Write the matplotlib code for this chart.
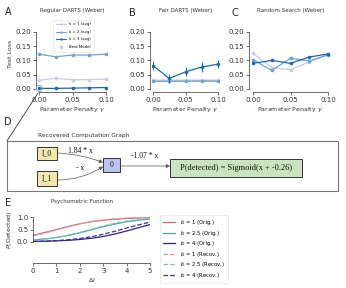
import matplotlib

matplotlib.use("Agg")
import matplotlib.pyplot as plt
from matplotlib.patches import FancyArrowPatch, Rectangle

W, H = 346, 288
DPI = 100

# --- panels A-C: test loss vs parameter penalty ---
penalty = [0.0, 0.025, 0.05, 0.075, 0.1]
penalty_ticks = [0.0, 0.05, 0.1]
loss_ticks = [0.0, 0.05, 0.10, 0.15, 0.20]

regular_k1 = [0.030, 0.038, 0.032, 0.033, 0.034]
regular_k2 = [0.122, 0.113, 0.119, 0.119, 0.122]
regular_k3 = [0.002, 0.002, 0.003, 0.004, 0.005]

fair_k1 = [0.031, 0.031, 0.031, 0.031, 0.031]
fair_k1_err = [0.005, 0.005, 0.005, 0.005, 0.005]
fair_k2 = [0.027, 0.027, 0.027, 0.028, 0.027]
fair_k3 = [0.082, 0.037, 0.060, 0.077, 0.087]
fair_k3_err = [0.017, 0.015, 0.016, 0.016, 0.014]

random_k1 = [0.125, 0.075, 0.067, 0.095, 0.120]
random_k2 = [0.103, 0.065, 0.108, 0.098, 0.120]
random_k3 = [0.090, 0.100, 0.090, 0.112, 0.123]

best_penalty = 0.0
best_loss = 0.003

# --- panel E: psychometric function ---
delta_i = [0.0, 0.5, 1.0, 1.5, 2.0, 2.5, 3.0, 3.5, 4.0, 4.5, 5.0]
orig_i1 = [0.27, 0.38, 0.50, 0.62, 0.73, 0.81, 0.87, 0.91, 0.94, 0.96, 0.97]
orig_i25 = [0.08, 0.12, 0.18, 0.26, 0.37, 0.49, 0.61, 0.72, 0.81, 0.87, 0.92]
orig_i4 = [0.02, 0.03, 0.045, 0.065, 0.10, 0.15, 0.22, 0.32, 0.44, 0.57, 0.70]
recov_i1 = [0.24, 0.35, 0.48, 0.61, 0.73, 0.82, 0.89, 0.93, 0.96, 0.975, 0.985]
recov_i25 = [0.075, 0.12, 0.18, 0.27, 0.38, 0.51, 0.64, 0.75, 0.84, 0.90, 0.945]
recov_i4 = [0.021, 0.035, 0.055, 0.09, 0.14, 0.21, 0.31, 0.43, 0.56, 0.68, 0.80]

K_COLORS = ["#c9c9e8", "#6aa3d5", "#1b6aac"]


def rect(x0, y0, x1, y1):
    return [x0 / W, 1 - y1 / H, (x1 - x0) / W, (y1 - y0) / H]


def style_axes(ax, xbounds, ybounds, left_off=1.5, bottom_off=1.0, size=5):
    for side in ("top", "right"):
        ax.spines[side].set_visible(False)
    ax.spines["left"].set_position(("outward", left_off))
    ax.spines["bottom"].set_position(("outward", bottom_off))
    ax.spines["left"].set_bounds(*ybounds)
    ax.spines["bottom"].set_bounds(*xbounds)
    for side in ("left", "bottom"):
        ax.spines[side].set_linewidth(0.5)
        ax.spines[side].set_color("#333333")
    ax.tick_params(labelsize=size, length=2, width=0.5, pad=1.5, colors="#333333")


def loss_panel(ax, title, series, show_ylabel):
    for values, color, err in series:
        if err is None:
            ax.plot(penalty, values, color=color, marker="o", markersize=1.6,
                    linewidth=0.9)
        else:
            ax.errorbar(penalty, values, yerr=err, color=color, marker="o",
                        markersize=1.6, linewidth=0.9, elinewidth=0.7)
    ax.set_xlim(-0.002, 0.102)
    ax.set_ylim(-0.005, 0.25)
    ax.set_xticks(penalty_ticks)
    ax.set_xticklabels(["0.00", "0.05", "0.10"])
    ax.set_yticks(loss_ticks)
    ax.set_yticklabels([f"{v:.2f}" for v in loss_ticks])
    style_axes(ax, (0, 0.1), (0, 0.2))
    ax.set_title(title, fontsize=4, pad=4, color="#333333")
    ax.set_xlabel(r"Parameter Penalty $\gamma$", fontsize=4.5, labelpad=1.5,
                  color="#333333")
    if show_ylabel:
        ax.set_ylabel("Test Loss", fontsize=4.5, labelpad=1.5, color="#333333")


fig = plt.figure(figsize=(W / DPI, H / DPI), dpi=DPI)

ax_a = fig.add_axes(rect(37.7, 17.7, 107.3, 90.4))
ax_b = fig.add_axes(rect(151.7, 17.7, 219.3, 90.4))
ax_c = fig.add_axes(rect(251.5, 17.7, 329.5, 90.4))

loss_panel(ax_a, "Regular DARTS (Weber)",
           [(regular_k1, K_COLORS[0], None), (regular_k2, K_COLORS[1], None),
            (regular_k3, K_COLORS[2], None)], True)
ax_a.plot([best_penalty], [best_loss], marker="o", markersize=4.5,
          markerfacecolor="none", markeredgecolor="#999999",
          markeredgewidth=0.6, linestyle="none", clip_on=False, zorder=5)
handles = [
    plt.Line2D([], [], color=K_COLORS[0], marker="+", markersize=2, linewidth=0.7),
    plt.Line2D([], [], color=K_COLORS[1], marker="+", markersize=2, linewidth=0.7),
    plt.Line2D([], [], color=K_COLORS[2], marker="+", markersize=2, linewidth=0.7),
    plt.Line2D([], [], color=K_COLORS[0], marker="*", markersize=2, linestyle="none"),
]
ax_a.legend(handles, ["k = 1 (avg)", "k = 2 (avg)", "k = 3 (avg)", "Best Model"],
            fontsize=2.8, loc="upper right", bbox_to_anchor=(0.83, 1.0),
            frameon=True, framealpha=1, edgecolor="#dddddd", fancybox=True,
            borderpad=0.7, labelspacing=0.9, handlelength=2.5, handletextpad=0.8)
ax_a.get_legend().get_frame().set_linewidth(0.4)

ax_b.fill_between(penalty, [v - e for v, e in zip(fair_k1, fair_k1_err)],
                  [v + e for v, e in zip(fair_k1, fair_k1_err)],
                  color=K_COLORS[0], alpha=0.5, linewidth=0)
loss_panel(ax_b, "Fair DARTS (Weber)",
           [(fair_k1, K_COLORS[0], None), (fair_k2, K_COLORS[1], None),
            (fair_k3, K_COLORS[2], fair_k3_err)], False)

loss_panel(ax_c, "Random Search (Weber)",
           [(random_k1, K_COLORS[0], None), (random_k2, K_COLORS[1], None),
            (random_k3, K_COLORS[2], None)], False)

# --- panel E ---
ax_e = fig.add_axes(rect(33, 215.75, 150, 243.25))
e_series = [
    (orig_i1, "#cc6677", "-", r"$I_0$ = 1 (Orig.)"),
    (orig_i25, "#44aa99", "-", r"$I_0$ = 2.5 (Orig.)"),
    (orig_i4, "#332288", "-", r"$I_0$ = 4 (Orig.)"),
    (recov_i1, "#dd99a8", "--", r"$I_0$ = 1 (Recov.)"),
    (recov_i25, "#77c4b4", "--", r"$I_0$ = 2.5 (Recov.)"),
    (recov_i4, "#3c3096", "--", r"$I_0$ = 4 (Recov.)"),
]
for values, color, style, label in e_series:
    ax_e.plot(delta_i, values, color=color, linestyle=style, linewidth=0.9,
              label=label)
ax_e.set_xlim(0, 5)
ax_e.set_ylim(-0.05, 1.05)
ax_e.set_xticks([0, 1, 2, 3, 4, 5])
ax_e.set_yticks([0.0, 0.5, 1.0])
style_axes(ax_e, (0, 5), (0, 1), left_off=0, bottom_off=14)
ax_e.set_xlabel(r"$\Delta I$", fontsize=4.5, labelpad=1.5, color="#333333")
ax_e.set_ylabel(r"$P$(Detected)", fontsize=4.5, labelpad=2, color="#333333")
leg = ax_e.legend(fontsize=3.8, loc="upper left", bbox_to_anchor=(1.06, 1.13),
                  frameon=True, edgecolor="#dddddd", framealpha=1,
                  labelspacing=0.3, handlelength=2.4, handletextpad=0.8,
                  borderpad=0.6)
leg.get_frame().set_linewidth(0.4)

# --- overlay for panel D, letters and connector ---
ov = fig.add_axes([0, 0, 1, 1], zorder=10)
ov.set_xlim(0, W)
ov.set_ylim(H, 0)
ov.axis("off")

for letter, x, y in [("A", 8, 12), ("B", 132, 13), ("C", 235, 13),
                     ("D", 8, 122), ("E", 8, 203)]:
    ov.text(x, y, letter, fontsize=7, ha="center", va="center", color="#222222")

ov.text(82, 202, "Psychometric Function", fontsize=4, ha="center", va="center",
        color="#333333")
ov.text(38, 135, "Recovered Computation Graph", fontsize=4.2, ha="left",
        va="center", color="#333333")

ov.add_patch(Rectangle((7, 141), 331, 50, facecolor="none", edgecolor="#777777",
                       linewidth=0.8))
ov.plot([38, 7], [93, 141], color="#333333", linewidth=0.6)

serif = "Liberation Serif"
nodes = [
    ("I_0", 37, 147, 20, 12.5, "#efe9b0"),
    ("I_1", 37, 171, 20, 15, "#efe9b0"),
    ("0", 103, 158, 17, 14, "#b8c5f0"),
    ("P(detected) = Sigmoid(x + -0.26)", 170, 159, 132, 18, "#c8e5bf"),
]
for text, x, y, w, h, fill in nodes:
    ov.add_patch(Rectangle((x, y), w, h, facecolor=fill, edgecolor="#333333",
                           linewidth=0.7))
    size = 6 if len(text) > 5 else 5.5
    ov.text(x + w / 2, y + h / 2, text, fontsize=size, family=serif,
            ha="center", va="center", color="#111111")

edges = [((57, 153), (103, 162.5), "arc3,rad=-0.08"),
         ((57, 180), (103, 166.5), "arc3,rad=0.15"),
         ((120, 166), (170, 166), "arc3,rad=0")]
for start, end, conn in edges:
    ov.add_patch(FancyArrowPatch(start, end, connectionstyle=conn,
                                 arrowstyle="-|>,head_length=2.2,head_width=1.1",
                                 color="#555555", linewidth=0.5,
                                 shrinkA=0, shrinkB=0))

for text, x, y in [("1.84 * x", 80, 151), ("- x", 80, 167.5),
                   ("-1.07 * x", 145, 156)]:
    ov.text(x, y, text, fontsize=5.5, family=serif, ha="center", va="center",
            color="#111111")

fig.savefig("out.png", dpi=DPI)
